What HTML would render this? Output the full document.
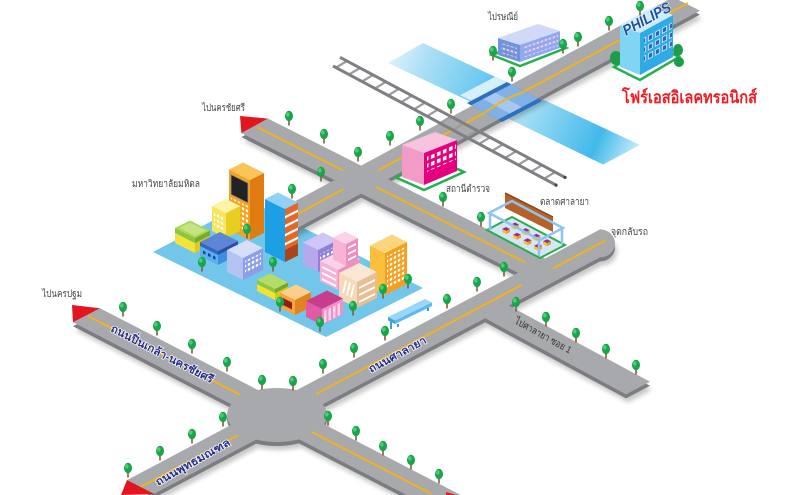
<!DOCTYPE html>
<html><head><meta charset="utf-8"><style>
html,body{margin:0;padding:0;background:#fff;width:800px;height:495px;overflow:hidden;}
svg{display:block;overflow:hidden;}
.lb{font-family:"Liberation Sans","DejaVu Sans",sans-serif;font-size:10px;fill:#444;}
.rn{font-family:"Liberation Sans","DejaVu Sans",sans-serif;font-size:11px;font-weight:bold;fill:#26308c;paint-order:stroke;stroke:#fff;stroke-width:1.4px;}
</style></head><body>
<svg width="800" height="495" viewBox="0 0 800 495" xmlns="http://www.w3.org/2000/svg">
<defs>
 <linearGradient id="rvL" gradientUnits="userSpaceOnUse" x1="388" y1="50" x2="505" y2="100"><stop offset="0" stop-color="#e4f4fc"/><stop offset="0.3" stop-color="#addff5"/><stop offset="1" stop-color="#4cbfee"/></linearGradient>
 <linearGradient id="rvR" gradientUnits="userSpaceOnUse" x1="495" y1="90" x2="640" y2="155"><stop offset="0" stop-color="#d4f0fc"/><stop offset="0.72" stop-color="#42b9ea"/><stop offset="1" stop-color="#d6f1fc"/></linearGradient>
 <filter id="off4" x="-5%" y="-5%" width="110%" height="115%"><feOffset dx="0" dy="4"/></filter>
 <filter id="sh" x="-5%" y="-5%" width="115%" height="120%"><feOffset dx="2" dy="8"/><feGaussianBlur stdDeviation="2.5"/></filter>
 <g id="rd">
  <path d="M127,480.1 L600,229.4 A15,14 0 0 1 600,257.4 L154.2,493.7 Z"/>
  <polygon points="100,308.2 460.7,495 406.6,495 73,322.2"/>
  <polygon points="268,118.6 555,263.5 530,278.9 241.4,133.1"/>
  <polygon points="667.7,0 678.6,0 700,10.6 283,235.8 283,207.8"/>
  <polygon points="500,300.8 650,381.8 626,394.4 480,315.5"/>
  <ellipse cx="277" cy="415" rx="50" ry="27"/>
 </g>
 <g id="tr"><rect x="-0.8" y="2.5" width="1.6" height="6" fill="#8a5a35"/><ellipse cx="0" cy="-1" rx="4" ry="5.2" fill="#17a64a"/><ellipse cx="-1.2" cy="-2.6" rx="1.8" ry="2.3" fill="#4fcb77"/></g>
 <g id="st"><polygon points="-4,-2 0,-4 4,-2 0,0" fill="#9a2d8f"/><polygon points="-4,-2 0,0 0,3 -4,1" fill="#f7c233"/><polygon points="0,0 4,-2 4,1 0,3" fill="#e3a51f"/></g>
 <pattern id="pw" width="4" height="5" patternUnits="userSpaceOnUse"><rect x="0.8" y="1" width="2.4" height="2.6" fill="#fff"/></pattern>
 <pattern id="pp" width="4" height="5" patternUnits="userSpaceOnUse"><rect x="0.6" y="1" width="2.6" height="2" fill="#f7c9e2"/></pattern>
 <pattern id="ph" width="7" height="9" patternUnits="userSpaceOnUse"><rect x="1" y="1" width="5" height="6" fill="#eaf6ff"/><rect x="1.8" y="1.8" width="3.4" height="4.4" fill="#2367b5"/></pattern>
 <pattern id="pwp" width="6" height="7" patternUnits="userSpaceOnUse"><rect x="1" y="1" width="3.5" height="4" fill="#fff"/></pattern>
</defs>

<!-- river -->
<polygon points="423,43 520,88.6 480,106.2 388,63" fill="url(#rvL)"/>
<polygon points="495,76.9 640,145 603,164.5 460,95.2" fill="url(#rvR)"/>

<!-- campus platform -->
<polygon points="153,252 250,201 423,288 326,337" fill="#72c6ea"/>

<!-- roads -->
<use href="#rd" fill="#000" opacity="0.22" filter="url(#sh)"/>
<use href="#rd" fill="#7c7d80" filter="url(#off4)"/>
<use href="#rd" fill="#a8a9ac"/>

<!-- yellow lines -->
<g stroke="#f2b21e" stroke-width="2" fill="none">
 <line x1="88" y1="316" x2="240" y2="394.7"/>
 <line x1="312" y1="432" x2="431" y2="493.6"/>
 <line x1="140" y1="487.2" x2="238" y2="435.3"/>
 <line x1="316" y1="394" x2="522" y2="284.8"/>
 <line x1="553" y1="268.4" x2="606" y2="240.3"/>
 <line x1="258" y1="127.5" x2="343" y2="170.4"/>
 <line x1="376" y1="187" x2="525" y2="262.3"/>
 <line x1="298" y1="213.7" x2="343" y2="189.4"/>
 <line x1="378" y1="170.5" x2="688" y2="3"/>
</g>

<!-- red arrows -->
<polygon points="240,116 268,118.6 241.4,133.1" fill="#e3161f"/>
<polygon points="72,305 100,308.2 73,322.2" fill="#e3161f"/>
<polygon points="127,480 154,494 121,495" fill="#e3161f"/>
<polygon points="446,492 456,495 446,495" fill="#e3161f"/>

<!-- bridge -->
<polygon points="467,103 507,82 542,101 502,122" fill="#2f6fbd"/>
<polygon points="471.2,105.3 511.2,84.3 537.8,98.7 497.8,119.7" fill="#7fb0e6"/>
<polygon points="483.2,99 495.2,92.7 521.8,107.1 509.8,113.4" fill="#a6c8ef"/>
<path d="M485,112.7 Q503,99 524.4,91.4" stroke="#f2b21e" stroke-width="2" fill="none"/>

<!-- railway -->
<g stroke="#9a9b9e" stroke-width="2.2">
 <line x1="336" y1="67.6" x2="347" y2="61"/><line x1="349" y1="74.5" x2="360" y2="68"/><line x1="362" y1="81.5" x2="373" y2="75"/><line x1="375" y1="88.4" x2="386" y2="81.8"/><line x1="388" y1="95.4" x2="399" y2="88.8"/><line x1="401" y1="102.3" x2="412" y2="95.7"/><line x1="414" y1="109.3" x2="425" y2="102.7"/><line x1="427" y1="116.2" x2="438" y2="109.6"/><line x1="440" y1="123.2" x2="451" y2="116.6"/><line x1="453" y1="130.1" x2="464" y2="123.5"/><line x1="466" y1="137.1" x2="477" y2="130.5"/><line x1="479" y1="144" x2="490" y2="137.4"/><line x1="492" y1="151" x2="503" y2="144.4"/><line x1="505" y1="157.9" x2="516" y2="151.3"/><line x1="518" y1="164.9" x2="529" y2="158.3"/><line x1="531" y1="171.8" x2="542" y2="165.2"/><line x1="544" y1="178.8" x2="555" y2="172.2"/>
</g>
<g stroke="#7f8083" stroke-width="3">
 <line x1="340" y1="57.3" x2="565" y2="177.4"/>
 <line x1="333" y1="66" x2="556" y2="185.1"/>
</g>
<circle cx="565" cy="177.4" r="1.6" fill="#444"/><circle cx="556" cy="185.1" r="1.6" fill="#444"/>

<!-- post office -->
<polygon points="492,55 520,66 566,48 538,37" fill="#fff" stroke="#22b14c" stroke-width="2.5"/>
<polygon points="498,55 520,62 520,45 498,38" fill="#7093dd"/>
<polygon points="520,62 560,48 560,31 520,45" fill="#8ea9ee"/>
<polygon points="498,38 520,45 560,31 538,24" fill="#d0d9f7"/>
<g transform="matrix(1,-0.35,0,1,520,62)"><rect x="3" y="-14" width="35" height="11" fill="url(#pp)"/></g>
<g transform="matrix(1,0.318,0,1,498,55)"><rect x="3" y="-13" width="16" height="10" fill="url(#pp)"/></g>

<!-- Philips -->
<polygon points="614,67 640,80 679,57 653,44" fill="#fff" stroke="#22b14c" stroke-width="2.5"/>
<ellipse cx="616" cy="58" rx="6" ry="7" fill="#1b9e47"/>
<ellipse cx="678" cy="50" rx="5" ry="6" fill="#1b9e47"/>
<ellipse cx="679" cy="62" rx="5" ry="5" fill="#1b9e47"/>
<polygon points="620,66.7 640,75 640,33 620,25" fill="#80d4f4"/>
<polygon points="640,75 673,57 673,15 640,33" fill="#30aae4"/>
<polygon points="620,25 640,33 673,15 653,7" fill="#c8eefc"/>
<g transform="matrix(1,-0.545,0,1,640,75)"><rect x="4" y="-37" width="28" height="27" fill="url(#ph)"/></g>
<text x="0" y="0" transform="translate(626,36) rotate(-29)" textLength="53" lengthAdjust="spacingAndGlyphs" style="font-family:'Liberation Sans',sans-serif;font-size:15px;font-weight:bold;font-style:italic;fill:#1d4f9e;paint-order:stroke;stroke:#fff;stroke-width:1px;">PHILIPS</text>

<!-- police -->
<polygon points="396,177.5 424,190 464,172 436,159" fill="#fff" stroke="#22b14c" stroke-width="2.5"/>
<polygon points="402,177 424,185 424,153 402,145" fill="#f29bc9"/>
<polygon points="424,185 457,171 457,140 424,153" fill="#e4007e"/>
<polygon points="402,145 424,153 457,140 435,132" fill="#f7c3de"/>
<g transform="matrix(1,-0.424,0,1,424,185)"><rect x="3" y="-27" width="29" height="15" fill="url(#pwp)"/></g>

<!-- market -->
<polygon points="487,230 540,258 565,245 512,217" fill="#d6e6f8" stroke="#25b04b" stroke-width="2"/>
<polygon points="505,193 553,217 553,232 505,208" fill="#b5622a"/>
<line x1="505" y1="193" x2="553" y2="217" stroke="#8c4517" stroke-width="1.5"/>
<use href="#st" x="506" y="231"/><use href="#st" x="517" y="236.7"/><use href="#st" x="527.5" y="242.3"/><use href="#st" x="538" y="247.9"/>
<use href="#st" x="515" y="226.5"/><use href="#st" x="525.7" y="232.1"/><use href="#st" x="536.3" y="237.7"/><use href="#st" x="547" y="243.3"/>
<g stroke="#8fc4f0" stroke-width="2.5" fill="none">
 <polygon points="489,213 540,240 563,228 512,201"/>
 <line x1="490" y1="214" x2="490" y2="230"/><line x1="539" y1="240" x2="539" y2="256"/><line x1="562" y1="228" x2="562" y2="244"/>
</g>

<!-- campus buildings -->
<g transform="translate(250,240)">
 <polygon points="-21,-10.5 0,0 0,-60 -21,-70.5" fill="#f7a21b"/>
 <polygon points="0,0 14,-7 14,-67 0,-60" fill="#e07b12"/>
 <polygon points="0,-60 14,-67 -7,-77.5 -21,-70.5" fill="#fbc457"/>
</g>
<g transform="matrix(1,0.5,0,1,229,229.5)"><rect x="2" y="-56" width="17" height="20" fill="#222" stroke="#999" stroke-width="0.8"/><rect x="2" y="-33" width="17" height="26" fill="url(#pw)"/></g>
<g transform="translate(226,238)">
 <polygon points="-14,-7 0,0 0,-25 -14,-32" fill="#f5e65a"/>
 <polygon points="0,0 14,-7 14,-32 0,-25" fill="#e6cf1f"/>
 <polygon points="0,-25 14,-32 0,-39 -14,-32" fill="#fbf3a5"/>
</g>
<g transform="matrix(1,0.5,0,1,212,231)"><rect x="2" y="-21" width="11" height="16" fill="url(#pw)"/></g>
<g transform="translate(195,253)">
 <polygon points="-20,-10 0,0 0,-10 -20,-20" fill="#f4e33a"/>
 <polygon points="0,0 15,-7.5 15,-17.5 0,-10" fill="#dccb1d"/>
</g>
<g transform="translate(195,243)">
 <polygon points="-20,-10 0,0 0,-5 -20,-15" fill="#8cc63f"/>
 <polygon points="0,0 15,-7.5 15,-12.5 0,-5" fill="#72ad2c"/>
 <polygon points="0,-5 15,-12.5 -5,-22.5 -20,-15" fill="#a8d655"/>
 <polygon points="0,-7 11,-12.5 -5,-20.5 -16,-15" fill="#c4e483"/>
</g>
<g transform="translate(218,265)">
 <polygon points="-18,-9 0,0 0,-10 -18,-19" fill="#59aff0"/>
 <polygon points="0,0 20,-10 20,-20 0,-10" fill="#3c8ede"/>
</g>
<g transform="translate(218,255)">
 <polygon points="-18,-9 0,0 0,-4 -18,-13" fill="#3565c2"/>
 <polygon points="0,0 20,-10 20,-14 0,-4" fill="#294fa8"/>
 <polygon points="0,-4 20,-14 2,-23 -18,-13" fill="#5d86d8"/>
</g>
<g transform="matrix(1,0.5,0,1,200,256)" fill="#1d3f8f"><rect x="3" y="-7" width="2.5" height="3"/><rect x="8" y="-7" width="2.5" height="3"/><rect x="13" y="-7" width="2.5" height="3"/></g>
<g transform="translate(243,280)">
 <polygon points="-16,-8 0,0 0,-22 -16,-30" fill="#b3c2f3"/>
 <polygon points="0,0 20,-10 20,-32 0,-22" fill="#8c9fe6"/>
 <polygon points="0,-22 20,-32 4,-40 -16,-30" fill="#d6defa"/>
</g>
<g transform="matrix(1,-0.5,0,1,243,280)"><rect x="2" y="-18" width="16" height="12" fill="url(#pw)"/></g>
<g transform="translate(285,262)">
 <polygon points="-20,-10 0,0 0,-53 -20,-63" fill="#1d9fe6"/>
 <polygon points="0,0 13,-6.5 13,-59.5 0,-53" fill="#e2672a"/>
 <polygon points="0,-53 13,-59.5 -7,-69.5 -20,-63" fill="#8fd2f6"/>
</g>
<g transform="matrix(1,-0.5,0,1,285,262)" fill="#fff"><rect x="0" y="-12" width="13" height="12" fill="#a9441c"/><rect x="0" y="-46" width="13" height="2.5"/><rect x="0" y="-37" width="13" height="2.5"/><rect x="0" y="-28" width="13" height="2.5"/><rect x="0" y="-19" width="13" height="2.5"/></g>
<g transform="translate(318,272)">
 <polygon points="-15,-7.5 0,0 0,-22 -15,-29.5" fill="#b7a8ee"/>
 <polygon points="0,0 20,-10 20,-32 0,-22" fill="#8f7fd8"/>
 <polygon points="0,-22 20,-32 5,-39.5 -15,-29.5" fill="#cfc6f5"/>
</g>
<g transform="matrix(1,-0.5,0,1,318,272)"><rect x="2" y="-17" width="16" height="12" fill="url(#pw)"/></g>
<g transform="translate(338,290)">
 <polygon points="-18,-9 0,0 0,-20 -18,-29" fill="#f7b3d6"/>
 <polygon points="0,0 22,-11 22,-31 0,-20" fill="#ee8ec0"/>
 <polygon points="0,-20 22,-31 4,-40 -18,-29" fill="#fbd3e8"/>
</g>
<g transform="matrix(1,0.5,0,1,320,281)" fill="#fff"><rect x="2" y="-16" width="14" height="2"/><rect x="2" y="-10" width="14" height="2"/><rect x="2" y="-4" width="14" height="2"/></g>
<g transform="translate(346,266)">
 <polygon points="-13,-6.5 0,0 0,-22 -13,-28.5" fill="#f7b3d6"/>
 <polygon points="0,0 12,-6 12,-28 0,-22" fill="#ee8ec0"/>
 <polygon points="0,-22 12,-28 -1,-34.5 -13,-28.5" fill="#fbd3e8"/>
</g>
<g transform="matrix(1,-0.5,0,1,346,266)" fill="#fff"><rect x="2" y="-18" width="8" height="2"/><rect x="2" y="-12" width="8" height="2"/><rect x="2" y="-6" width="8" height="2"/></g>
<g transform="translate(385,295)">
 <polygon points="-15,-7.5 0,0 0,-42 -15,-49.5" fill="#fbbf3e"/>
 <polygon points="0,0 22,-11 22,-53 0,-42" fill="#f59f1d"/>
 <polygon points="0,-42 22,-53 7,-60.5 -15,-49.5" fill="#fcd57c"/>
</g>
<g transform="matrix(1,-0.5,0,1,385,295)"><rect x="2" y="-38" width="18" height="33" fill="url(#pw)"/></g>
<g transform="translate(275,300)">
 <polygon points="-18,-9 0,0 0,-7 -18,-16" fill="#f0e332"/>
 <polygon points="0,0 13,-6.5 13,-13.5 0,-7" fill="#d8c81e"/>
</g>
<g transform="translate(275,293)">
 <polygon points="-18,-9 0,0 0,-4 -18,-13" fill="#8dc63f"/>
 <polygon points="0,0 13,-6.5 13,-10.5 0,-4" fill="#6fa82b"/>
 <polygon points="0,-4 13,-10.5 -5,-19.5 -18,-13" fill="#b5dc67"/>
</g>
<g transform="translate(357,308)">
 <polygon points="-18,-9 0,0 0,-26 -18,-35" fill="#f6d9b8"/>
 <polygon points="0,0 20,-10 20,-36 0,-26" fill="#e8bf93"/>
 <polygon points="0,-26 20,-36 2,-45 -18,-35" fill="#fbe8d2"/>
</g>
<g transform="matrix(1,0.5,0,1,339,299)" stroke="#fff" stroke-width="1.6"><line x1="4" y1="-8" x2="7" y2="-22"/><line x1="8" y1="-8" x2="11" y2="-22"/><line x1="12" y1="-8" x2="15" y2="-22"/></g>
<g transform="matrix(1,-0.5,0,1,357,308)" fill="#fff"><rect x="2" y="-20" width="16" height="2"/><rect x="2" y="-13" width="16" height="2"/><rect x="2" y="-6" width="16" height="2"/></g>
<g transform="translate(295,315)">
 <polygon points="-15,-7.5 0,0 0,-15 -15,-22.5" fill="#f7a43a"/>
 <polygon points="0,0 16,-8 16,-23 0,-15" fill="#e3831f"/>
 <polygon points="0,-15 16,-23 1,-30.5 -15,-22.5" fill="#fcd08a"/>
</g>
<g transform="matrix(1,0.5,0,1,280,307.5)"><rect x="3" y="-11" width="9" height="7" fill="#8d1f22"/></g>
<g transform="translate(322,325)">
 <polygon points="-16,-8 0,0 0,-16 -16,-24" fill="#e05aa6"/>
 <polygon points="0,0 21,-10.5 21,-26.5 0,-16" fill="#f090c6"/>
 <polygon points="0,-16 21,-26.5 5,-34.5 -16,-24" fill="#c83c8e"/>
</g>
<g transform="matrix(1,-0.5,0,1,322,325)" fill="#fbd3e8"><rect x="2" y="-13" width="2.5" height="12"/><rect x="6.5" y="-13" width="2.5" height="12"/><rect x="11" y="-13" width="2.5" height="12"/><rect x="15.5" y="-13" width="2.5" height="12"/></g>
<g stroke="#3a9fe0" stroke-width="2"><line x1="391" y1="321" x2="391" y2="329"/><line x1="428" y1="304" x2="428" y2="311"/><line x1="398" y1="324" x2="398" y2="327"/></g>
<polygon points="388,317 425,299 432,302.5 395,320.5" fill="#9ad6f7"/>
<polygon points="388,317 395,320.5 395,324 388,320.5" fill="#3aa4e4"/>
<polygon points="395,320.5 432,302.5 432,306 395,324" fill="#5bb9ee"/>

<!-- trees -->
<g>
<use href="#tr" x="640" y="7"/><use href="#tr" x="609" y="22"/><use href="#tr" x="578" y="38"/><use href="#tr" x="563" y="45"/><use href="#tr" x="493" y="52"/><use href="#tr" x="512" y="73"/>
<use href="#tr" x="451" y="105"/><use href="#tr" x="420" y="122"/><use href="#tr" x="390" y="137"/><use href="#tr" x="358" y="153"/>
<use href="#tr" x="289" y="117"/><use href="#tr" x="324" y="135"/><use href="#tr" x="321" y="173"/><use href="#tr" x="292" y="190"/>
<use href="#tr" x="443" y="198"/><use href="#tr" x="481" y="218"/><use href="#tr" x="504" y="268"/><use href="#tr" x="477" y="283"/><use href="#tr" x="447" y="300"/>
<use href="#tr" x="516" y="303"/><use href="#tr" x="546" y="318"/><use href="#tr" x="576" y="334"/><use href="#tr" x="606" y="350"/><use href="#tr" x="636" y="366"/>
<use href="#tr" x="385" y="332"/><use href="#tr" x="354" y="349"/><use href="#tr" x="323" y="365"/><use href="#tr" x="293" y="382"/><use href="#tr" x="262" y="381"/>
<use href="#tr" x="227" y="363"/><use href="#tr" x="192" y="345"/><use href="#tr" x="157" y="327"/><use href="#tr" x="123" y="308"/>
<use href="#tr" x="223" y="418"/><use href="#tr" x="192" y="435"/><use href="#tr" x="160" y="452"/><use href="#tr" x="128" y="469"/>
<use href="#tr" x="328" y="417"/><use href="#tr" x="356" y="432"/><use href="#tr" x="383" y="447"/><use href="#tr" x="411" y="461"/><use href="#tr" x="439" y="475"/>
<use href="#tr" x="247" y="230"/><use href="#tr" x="202" y="263"/><use href="#tr" x="273" y="263"/><use href="#tr" x="280" y="303"/><use href="#tr" x="320" y="323"/><use href="#tr" x="353" y="307"/><use href="#tr" x="383" y="290"/><use href="#tr" x="408" y="280"/>
</g>

<!-- labels -->
<text class="lb" x="488" y="20" textLength="30" lengthAdjust="spacingAndGlyphs">ไปรษณีย์</text>
<text class="lb" x="202" y="111" textLength="43" lengthAdjust="spacingAndGlyphs">ไปนครชัยศรี</text>
<text class="lb" x="132" y="187" textLength="68" lengthAdjust="spacingAndGlyphs">มหาวิทยาลัยมหิดล</text>
<text class="lb" x="42" y="297" textLength="40" lengthAdjust="spacingAndGlyphs">ไปนครปฐม</text>
<text class="lb" x="446" y="192" textLength="44" lengthAdjust="spacingAndGlyphs">สถานีตำรวจ</text>
<text class="lb" x="540" y="205" textLength="49" lengthAdjust="spacingAndGlyphs">ตลาดศาลายา</text>
<text class="lb" x="611" y="235" textLength="37" lengthAdjust="spacingAndGlyphs">จุดกลับรถ</text>
<text class="lb" x="0" y="0" transform="translate(514,323) rotate(29)" textLength="63" lengthAdjust="spacingAndGlyphs" style="fill:#333">ไปศาลายา ซอย 1</text>
<text class="rn" x="0" y="0" transform="translate(110,331) rotate(27.4)" textLength="114" lengthAdjust="spacingAndGlyphs">ถนนปิ่นเกล้า-นครชัยศรี</text>
<text class="rn" x="0" y="0" transform="translate(371,373) rotate(-28.5)" textLength="64" lengthAdjust="spacingAndGlyphs">ถนนศาลายา</text>
<text class="rn" x="0" y="0" transform="translate(158,486) rotate(-29.5)" textLength="84" lengthAdjust="spacingAndGlyphs">ถนนพุทธมณฑล</text>
<text x="622" y="103" textLength="135" lengthAdjust="spacingAndGlyphs" style="font-family:'Liberation Sans','DejaVu Sans',sans-serif;font-size:17px;font-weight:bold;fill:#ee1c25;">โฟร์เอสอิเลคทรอนิกส์</text>
</svg>
</body></html>
